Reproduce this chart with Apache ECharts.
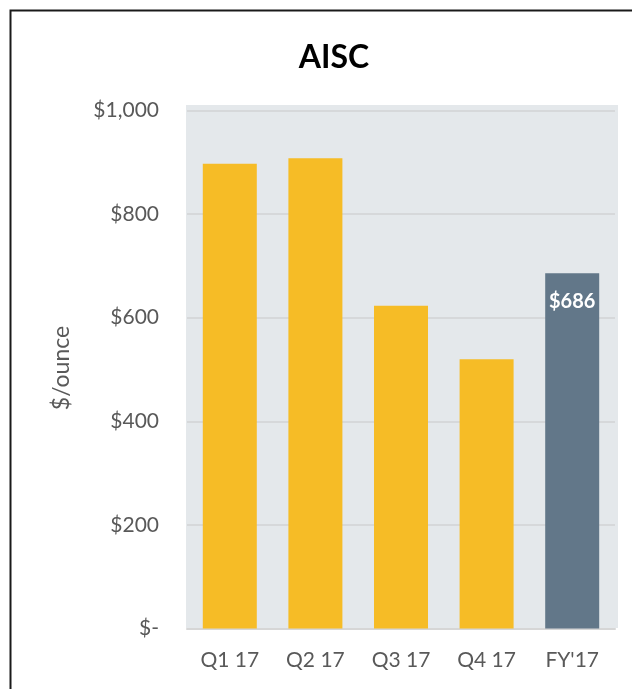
<!DOCTYPE html>
<html>
<head>
<meta charset="utf-8">
<script src="https://cdn.jsdelivr.net/npm/echarts@6/dist/echarts.min.js"></script>
<style>
  html, body { margin: 0; padding: 0; background: #fff; }
  #chart { width: 632px; height: 689px; }
</style>
</head>
<body>
<div id="chart"></div>
<script>
// All-in sustaining cost per ounce, quarterly and full year 2017
const categories = ['Q1 17', 'Q2 17', 'Q3 17', 'Q4 17', "FY'17"];
const aiscValues = [897, 908, 623, 520, 686];
const yTicks = [0, 200, 400, 600, 800, 1000];
const labelledIndex = 4; // full-year bar carries its value

const QUARTER_COLOR = '#F6BC26';
const YEAR_COLOR = '#627789';
const TEXT_GRAY = '#595959';
const FONT = 'Lato, "Open Sans", sans-serif';

const chart = echarts.init(document.getElementById('chart'), null, { renderer: 'canvas' });

const fmtDollar = v => v === 0 ? '$-' : '$' + v.toLocaleString('en-US');

chart.setOption({
  animation: false,
  backgroundColor: '#ffffff',
  title: {
    text: 'AISC',
    left: 329,
    top: 37,
    textAlign: 'center',
    textStyle: { fontFamily: FONT, fontWeight: 'bold', fontSize: 32, color: '#000' }
  },
  graphic: [
    {
      type: 'rect',
      z: -10,
      silent: true,
      shape: { x: 10.5, y: 10.5, width: 660, height: 720 },
      style: { fill: 'none', stroke: '#1a1a1a', lineWidth: 2 }
    },
    {
      type: 'rect',
      z: -5,
      silent: true,
      shape: { x: 186, y: 105, width: 432, height: 523 },
      style: { fill: '#E4E8EB' }
    },
    {
      type: 'text',
      x: 62,
      y: 368,
      rotation: Math.PI / 2,
      style: {
        text: '$/ounce',
        fontFamily: FONT,
        fontSize: 23,
        fill: TEXT_GRAY,
        align: 'center',
        verticalAlign: 'middle'
      }
    }
  ],
  grid: { left: 187, right: 17, top: 110.5, bottom: 60.5 },
  xAxis: {
    type: 'category',
    data: categories,
    axisLine: { show: true, lineStyle: { color: '#D6D6D6', width: 2 } },
    axisTick: { show: false },
    axisLabel: { color: TEXT_GRAY, fontFamily: FONT, fontSize: 21, margin: 21 }
  },
  yAxis: {
    type: 'value',
    min: yTicks[0],
    max: yTicks[yTicks.length - 1],
    interval: yTicks[1] - yTicks[0],
    axisLine: { show: false },
    axisTick: { show: false },
    axisLabel: {
      color: TEXT_GRAY,
      fontFamily: FONT,
      fontSize: 21,
      margin: 28,
      formatter: fmtDollar
    },
    splitLine: { lineStyle: { color: '#D6D8DA', width: 2 } }
  },
  series: [{
    type: 'bar',
    data: aiscValues.map((v, i) => ({
      value: v,
      itemStyle: { color: i === labelledIndex ? YEAR_COLOR : QUARTER_COLOR },
      label: {
        show: i === labelledIndex,
        position: 'insideTop',
        distance: 18,
        color: '#ffffff',
        fontFamily: FONT,
        fontWeight: 'bold',
        fontSize: 20,
        formatter: p => '$' + p.value
      }
    })),
    barWidth: 54
  }]
});
</script>
</body>
</html>
